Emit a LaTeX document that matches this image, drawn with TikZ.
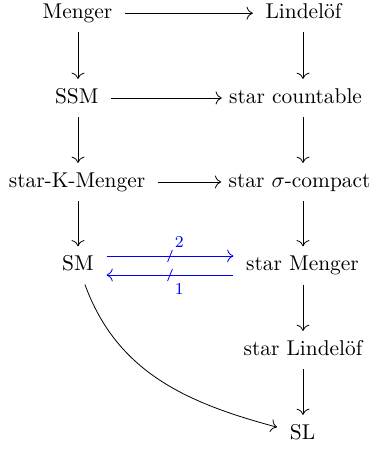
\documentclass[tikz,border=0pt]{standalone}
\usetikzlibrary{arrows.meta}
\begin{document}
\begin{tikzpicture}
        [x=1pt,y=1pt,>={Computer Modern Rightarrow[scale=1.25]},
         obj/.style={font=\fontsize{10.7pt}{12.8pt}\selectfont,
           text height=7.4pt,text depth=2.1pt,inner xsep=6.2pt,inner ysep=4.6pt},
         lab/.style={blue,inner sep=1pt,font=\fontsize{8.3pt}{10pt}\selectfont},
         every path/.style={->}]
        \useasboundingbox (0,0) rectangle (186,-224.5);

        \node[obj] (menger) at (38.75,-6.6) {Menger};
        \node[obj] (ssm) at (38.4,-49) {SSM};
        \node[obj] (skm) at (38.5,-91) {star-K-Menger};
        \node[obj] (sm) at (39,-132.7) {SM};

        \node[obj] (lind) at (151.75,-6.6) {Lindel\"of};
        \node[obj,inner xsep=3.5pt] (scount) at (147.8,-49) {star countable};
        \node[obj,inner xsep=3.5pt] (ssigma) at (149.75,-91) {star $\sigma$-compact};
        \node[obj] (smen) at (151.25,-132.7) {star Menger};
        \node[obj] (slind) at (151.5,-175) {star Lindel\"of};
        \node[obj] (sl) at (151.25,-217) {SL};

        \draw (menger) -- (lind);
        \draw (ssm) -- (scount);
        \draw (skm) -- (ssigma);

        \draw (menger.south -| sm) -- (ssm.north -| sm);
        \draw (ssm.south -| sm) -- (skm.north -| sm);
        \draw (skm.south -| sm) -- (sm);
        \draw (lind.south -| slind) -- (scount.north -| slind);
        \draw (scount.south -| slind) -- (ssigma.north -| slind);
        \draw (ssigma.south -| slind) -- (smen.north -| slind);
        \draw (smen.south -| slind) -- (slind);
        \draw (slind) -- (sl.north -| slind);

        \draw[blue] ([yshift=4.7pt]sm.east) -- coordinate (m2) ([yshift=4.7pt]smen.west);
        \draw[blue] ([yshift=-4.8pt]smen.west) -- coordinate (m1) ([yshift=-4.8pt]sm.east);
        \draw[blue,-] ([xshift=-1.2pt,yshift=-3pt]m2) -- ([xshift=1.2pt,yshift=3pt]m2)
          node[lab,anchor=south west] {2};
        \draw[blue,-] ([xshift=1.2pt,yshift=3pt]m1) -- ([xshift=-1.2pt,yshift=-3pt]m1);
        \node[lab,anchor=north west] at ([xshift=1.2pt,yshift=-3pt]m1) {1};

        \draw (sm) to[out=-70,in=165] (sl);
      \end{tikzpicture}
\end{document}
